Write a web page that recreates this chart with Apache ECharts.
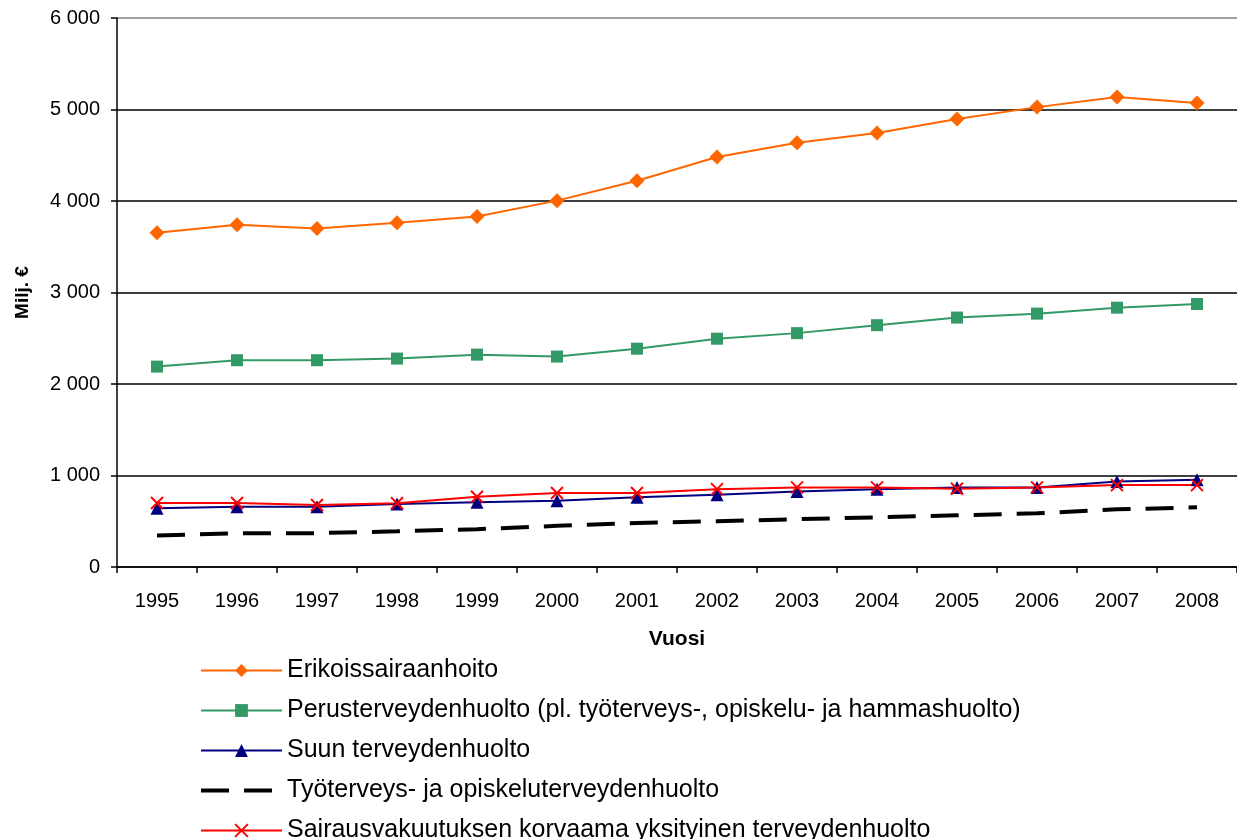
<!DOCTYPE html>
<html>
<head>
<meta charset="utf-8">
<script src="https://cdn.jsdelivr.net/npm/echarts@6/dist/echarts.min.js"></script>
<style>
html,body{margin:0;padding:0;background:#fff;}
#chart{width:1237px;height:839px;}
</style>
</head>
<body>
<div id="chart"></div>
<script>
var years = ['1995','1996','1997','1998','1999','2000','2001','2002','2003','2004','2005','2006','2007','2008'];
var seriesNames = [
  'Erikoissairaanhoito',
  'Perusterveydenhuolto (pl. työterveys-, opiskelu- ja hammashuolto)',
  'Suun terveydenhuolto',
  'Työterveys- ja opiskeluterveydenhuolto',
  'Sairausvakuutuksen korvaama yksityinen terveydenhuolto'
];
var erikoissairaanhoito = [3652,3741,3700,3763,3830,4004,4222,4481,4637,4744,4896,5026,5137,5070];
var perusterveydenhuolto = [2190,2260,2260,2278,2321,2300,2386,2495,2556,2643,2726,2769,2834,2874];
var suunTerveydenhuolto = [641,659,659,688,707,725,761,790,826,851,870,870,935,953];
var tyoterveys = [344,370,370,390,413,450,482,500,522,543,565,587,630,652];
var sairausvakuutus = [699,699,678,696,768,808,808,851,870,870,855,870,895,895];
var yTicks = [0,1000,2000,3000,4000,5000,6000];

var FONT = '"Liberation Sans", Arial, sans-serif';
var chart = echarts.init(document.getElementById('chart'), null, {renderer:'canvas'});
var xPath = 'path://M0,0L10,10M10,0L0,10';

chart.setOption({
  animation:false,
  backgroundColor:'#ffffff',
  textStyle:{fontFamily:FONT},
  grid:{left:117, top:18, width:1130, height:549, containLabel:false},
  xAxis:{
    type:'category',
    data:years,
    boundaryGap:true,
    name:'Vuosi',
    nameLocation:'middle',
    nameGap:62,
    nameTextStyle:{fontFamily:FONT,fontSize:21,fontWeight:'bold',color:'#000'},
    axisLine:{lineStyle:{color:'#000',width:1.5}},
    axisTick:{show:true,length:6,lineStyle:{color:'#000',width:1.5}},
    axisLabel:{fontFamily:FONT,fontSize:20,color:'#000',margin:24},
    splitLine:{show:false}
  },
  yAxis:{
    type:'value',
    min:yTicks[0],max:yTicks[yTicks.length-1],interval:1000,
    name:'Milj. €',
    nameLocation:'middle',
    nameRotate:90,
    nameGap:85,
    nameTextStyle:{fontFamily:FONT,fontSize:19,fontWeight:'bold',color:'#000'},
    axisLine:{show:true,lineStyle:{color:'#000',width:1.5}},
    axisTick:{show:true,inside:false,length:6,lineStyle:{color:'#000',width:1.5}},
    axisLabel:{
      fontFamily:FONT,fontSize:20,color:'#000',margin:17,
      formatter:function(v){ return String(v).replace(/\B(?=(\d{3})+(?!\d))/g,' '); }
    },
    splitLine:{show:true,lineStyle:{color:['#000','#000','#000','#000','#000','#000','#808080'],width:1.5}}
  },
  legend:{
    orient:'vertical',
    left:194, top:653, height:200,
    itemWidth:81, itemHeight:16, itemGap:15,
    textStyle:{fontFamily:FONT,fontSize:25,color:'#000',lineHeight:25},
    data:[
      {name:seriesNames[0]},
      {name:seriesNames[1]},
      {name:seriesNames[2]},
      {name:seriesNames[3], itemStyle:{color:'rgba(0,0,0,0)',borderWidth:0,opacity:0}, lineStyle:{color:'#000',width:4,type:[28,15]}},
      {name:seriesNames[4]}
    ]
  },
  series:[
    {name:seriesNames[0],type:'line',data:erikoissairaanhoito,symbol:'diamond',symbolSize:15,
     itemStyle:{color:'#FF6600'},lineStyle:{color:'#FF6600',width:2}},
    {name:seriesNames[1],type:'line',data:perusterveydenhuolto,symbol:'rect',symbolSize:12,
     itemStyle:{color:'#339966'},lineStyle:{color:'#339966',width:2}},
    {name:seriesNames[2],type:'line',data:suunTerveydenhuolto,symbol:'triangle',symbolSize:13,
     itemStyle:{color:'#000080'},lineStyle:{color:'#000080',width:2}},
    {name:seriesNames[3],type:'line',data:tyoterveys,symbol:'none',showSymbol:false,
     itemStyle:{color:'#000'},lineStyle:{color:'#000',width:4,type:[28,15]}},
    {name:seriesNames[4],type:'line',data:sairausvakuutus,symbol:xPath,symbolSize:12,
     itemStyle:{color:'#FF0000',borderColor:'#FF0000',borderWidth:2},lineStyle:{color:'#FF0000',width:2}}
  ]
});
</script>
</body>
</html>
